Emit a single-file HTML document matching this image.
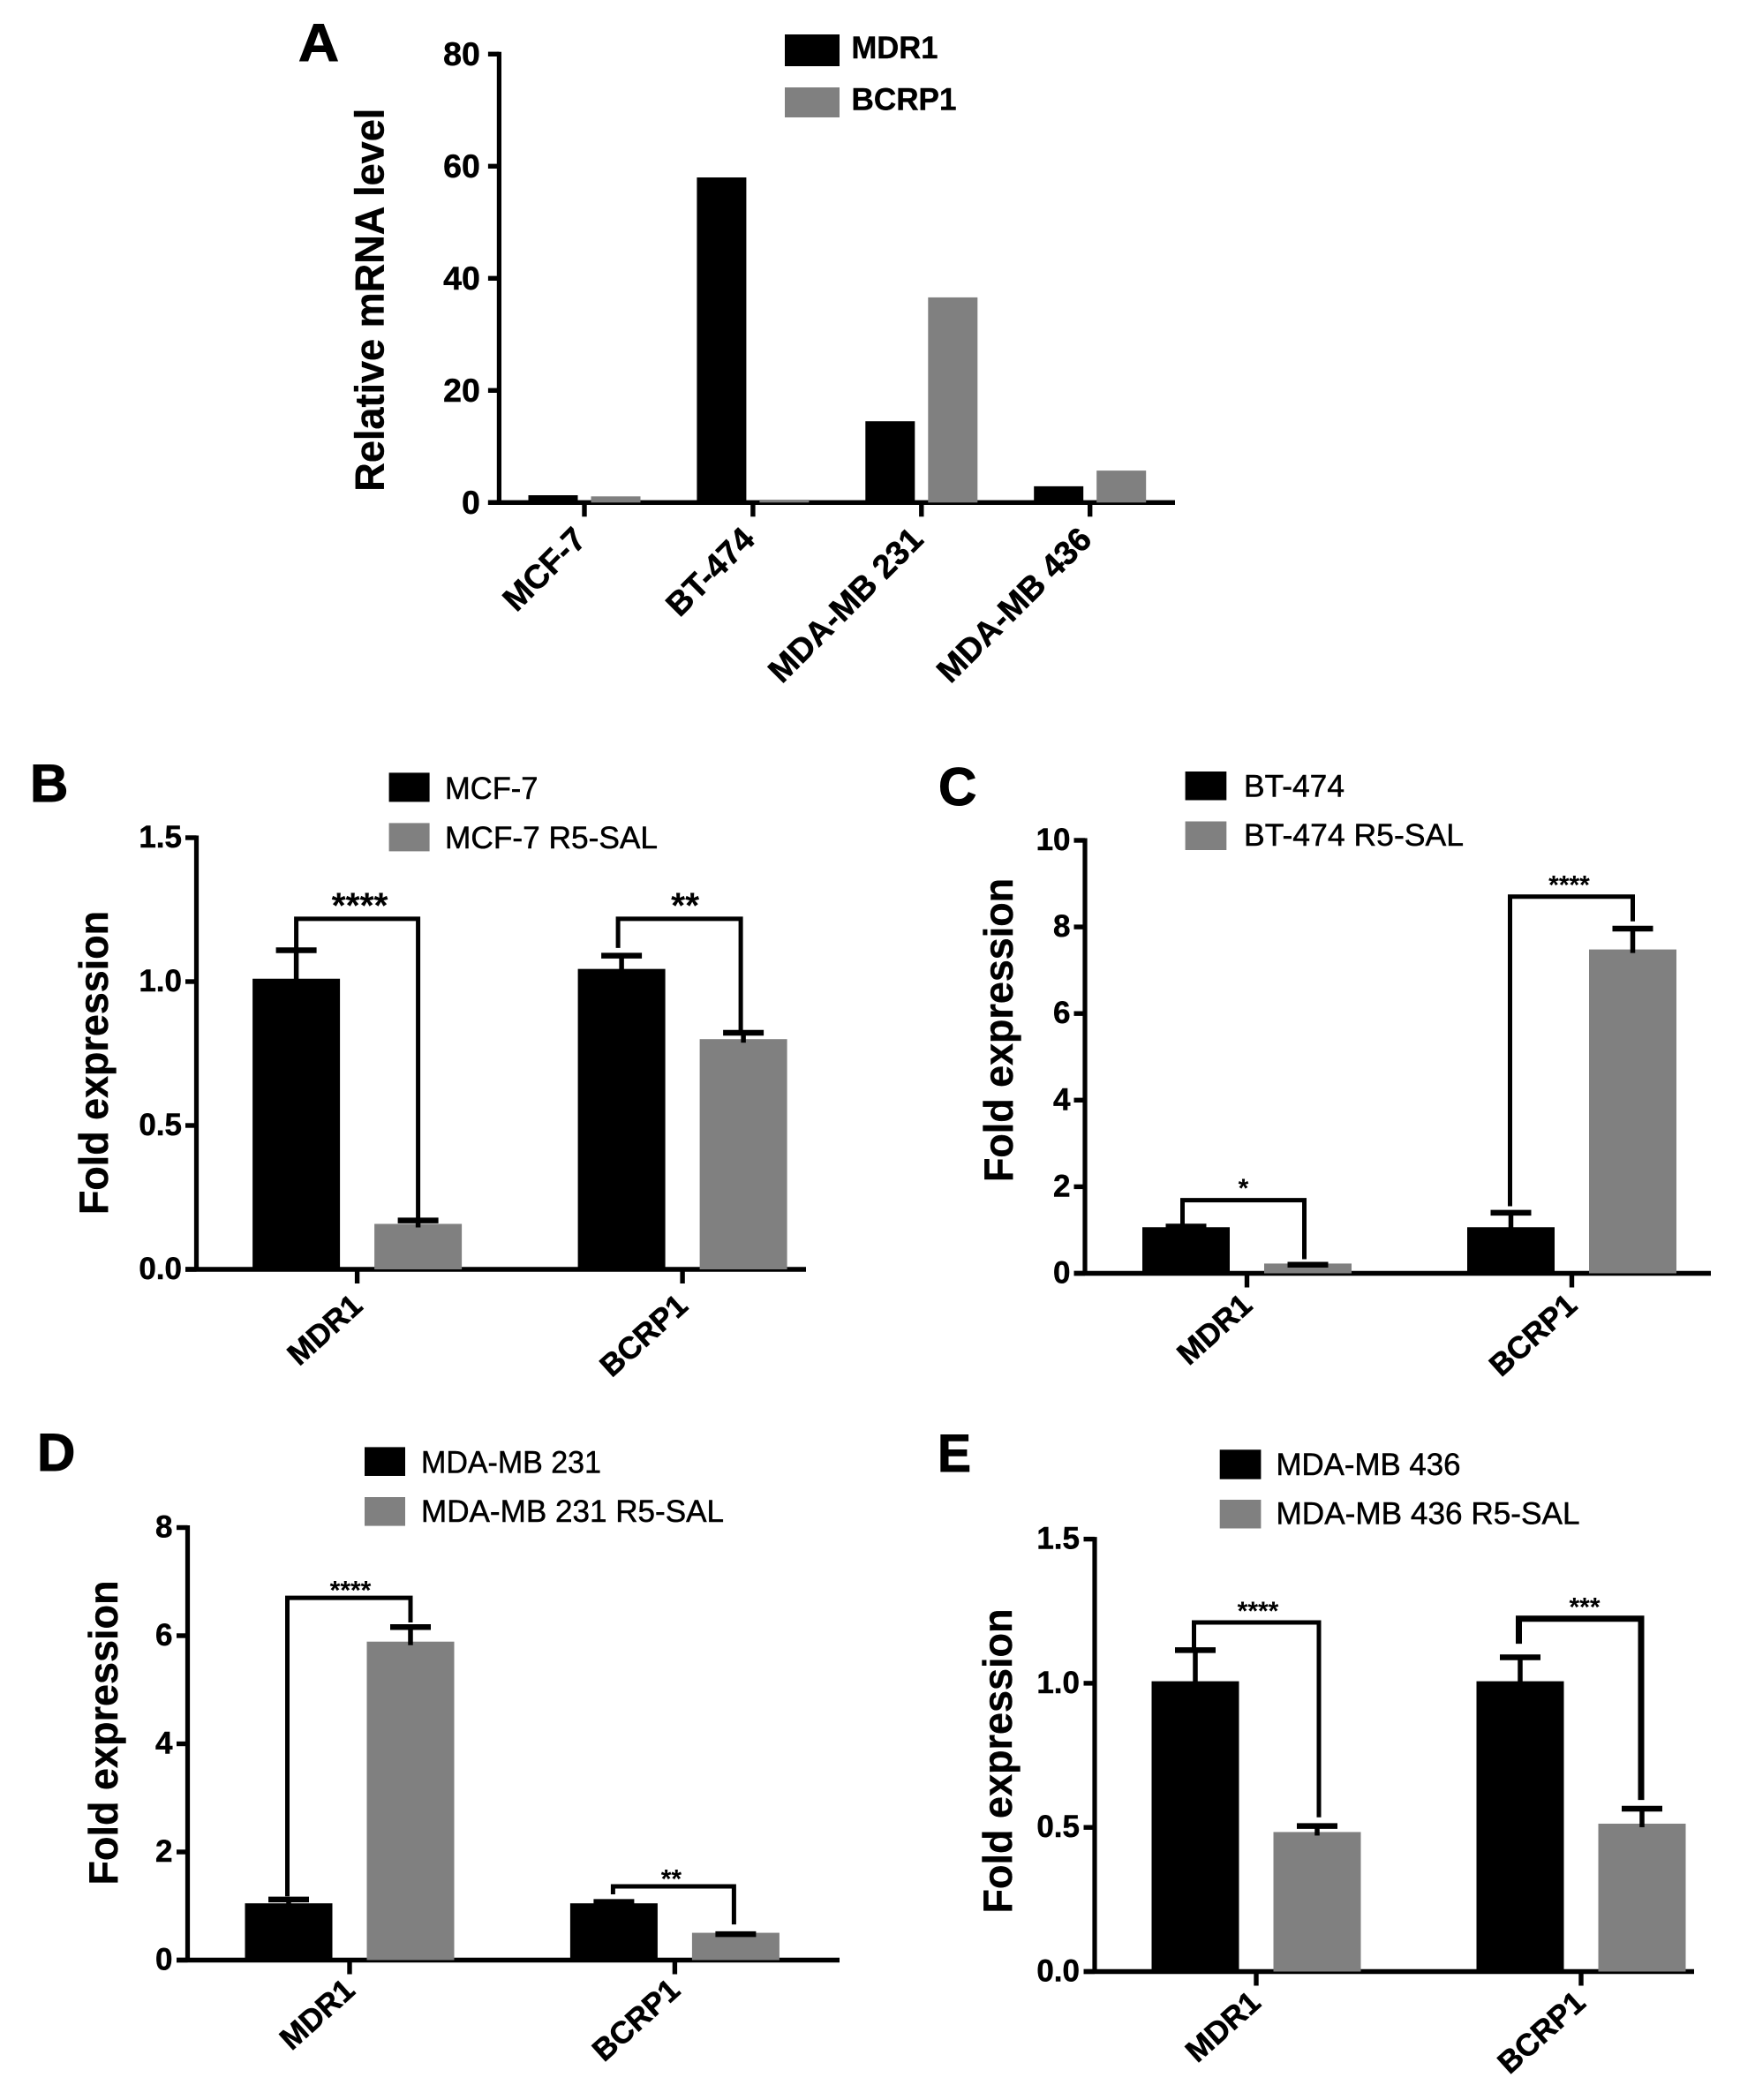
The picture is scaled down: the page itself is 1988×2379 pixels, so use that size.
<!DOCTYPE html>
<html lang="en">
<head>
<meta charset="utf-8">
<title>Relative mRNA level and fold expression of MDR1 and BCRP1</title>
<style>
html,body{margin:0;padding:0;background:#fff;}
svg{display:block;}
text{font-family:"Liberation Sans",sans-serif;fill:#000;}
.panel-letter{font-size:60px;font-weight:700;stroke:#000;stroke-width:1px;}
.y-title{font-size:46px;font-weight:700;stroke:#000;stroke-width:.4px;}
.legend-bold{font-size:35px;font-weight:700;stroke:#000;stroke-width:.4px;}
.legend-reg{font-size:35px;stroke:#000;stroke-width:.5px;}
.tick{font-weight:700;text-anchor:end;stroke:#000;stroke-width:.5px;}
.cat{font-weight:700;text-anchor:end;stroke:#000;stroke-width:.6px;}
.stars{font-weight:700;text-anchor:middle;}
</style>
</head>
<body>
<svg id="figure" xmlns="http://www.w3.org/2000/svg" width="1988" height="2379" viewBox="0 0 1988 2379">
  <rect x="0" y="0" width="1988" height="2379" fill="#fff"/>

  <text class="panel-letter" x="338" y="69" textLength="46" lengthAdjust="spacingAndGlyphs">A</text>
  <text class="y-title" transform="translate(434.5,339.7) rotate(-90)" text-anchor="middle" textLength="434" lengthAdjust="spacingAndGlyphs">Relative mRNA level</text>
  <rect x="889" y="39" width="62" height="36" fill="#000"/>
  <rect x="889" y="99" width="62" height="34" fill="#808080"/>
  <text class="legend-bold" x="964.5" y="66" textLength="98" lengthAdjust="spacingAndGlyphs">MDR1</text>
  <text class="legend-bold" x="964.5" y="124.5" textLength="119" lengthAdjust="spacingAndGlyphs">BCRP1</text>

  <text class="panel-letter" x="34" y="908">B</text>
  <text class="y-title" transform="translate(122,1204) rotate(-90)" text-anchor="middle" textLength="344" lengthAdjust="spacingAndGlyphs">Fold expression</text>
  <rect x="440.6" y="875.4" width="46" height="33" fill="#000"/>
  <rect x="440.6" y="932.4" width="46" height="32" fill="#808080"/>
  <text class="legend-reg" x="504" y="905" textLength="105.5" lengthAdjust="spacingAndGlyphs">MCF-7</text>
  <text class="legend-reg" x="504" y="961" textLength="241" lengthAdjust="spacingAndGlyphs">MCF-7 R5-SAL</text>

  <text class="panel-letter" x="1063" y="912">C</text>
  <text class="y-title" transform="translate(1147,1167) rotate(-90)" text-anchor="middle" textLength="344" lengthAdjust="spacingAndGlyphs">Fold expression</text>
  <rect x="1342.6" y="874" width="46.7" height="32.5" fill="#000"/>
  <rect x="1342.6" y="930.5" width="46.7" height="32.5" fill="#808080"/>
  <text class="legend-reg" x="1409" y="902.7" textLength="114" lengthAdjust="spacingAndGlyphs">BT-474</text>
  <text class="legend-reg" x="1409" y="958" textLength="249" lengthAdjust="spacingAndGlyphs">BT-474 R5-SAL</text>

  <text class="panel-letter" x="42" y="1666">D</text>
  <text class="y-title" transform="translate(133,1963) rotate(-90)" text-anchor="middle" textLength="345" lengthAdjust="spacingAndGlyphs">Fold expression</text>
  <rect x="413" y="1639.4" width="46" height="32.6" fill="#000"/>
  <rect x="413" y="1696" width="46" height="32.6" fill="#808080"/>
  <text class="legend-reg" x="477" y="1668.5" textLength="204" lengthAdjust="spacingAndGlyphs">MDA-MB 231</text>
  <text class="legend-reg" x="477" y="1724" textLength="343" lengthAdjust="spacingAndGlyphs">MDA-MB 231 R5-SAL</text>

  <text class="panel-letter" x="1062" y="1667" textLength="38" lengthAdjust="spacingAndGlyphs">E</text>
  <text class="y-title" transform="translate(1146,1995) rotate(-90)" text-anchor="middle" textLength="345" lengthAdjust="spacingAndGlyphs">Fold expression</text>
  <rect x="1381.7" y="1642.3" width="46.7" height="33.4" fill="#000"/>
  <rect x="1381.7" y="1699" width="46.7" height="32.5" fill="#808080"/>
  <text class="legend-reg" x="1445.5" y="1671" textLength="209" lengthAdjust="spacingAndGlyphs">MDA-MB 436</text>
  <text class="legend-reg" x="1445.5" y="1726.6" textLength="344" lengthAdjust="spacingAndGlyphs">MDA-MB 436 R5-SAL</text>
</svg>
<script>
// Panel A data
const aCategories = ["MCF-7", "BT-474", "MDA-MB 231", "MDA-MB 436"];
const aTicks = ["0", "20", "40", "60", "80"];
const aMdr1 = [1.3, 58, 14.5, 2.9];
const aBcrp1 = [1.1, 0.5, 36.6, 5.7];

// Panel B data
const bCategories = ["MDR1", "BCRP1"];
const bTicks = ["0.0", "0.5", "1.0", "1.5"];
const bControl = [1.01, 1.044];
const bResistant = [0.158, 0.80];
const bControlErr = [1.109, 1.09];
const bResistantErr = [0.17, 0.822];
const bBracketTop = [1.218, 1.218];
const bBracketLeft = [1.109, 1.117];
const bBracketRight = [0.17, 0.819];
const bStars = ["****", "**"];

// Panel C data
const cCategories = ["MDR1", "BCRP1"];
const cTicks = ["0", "2", "4", "6", "8", "10"];
const cControl = [1.065, 1.065];
const cResistant = [0.226, 7.48];
const cControlErr = [1.08, 1.40];
const cResistantErr = [0.2, 7.96];
const cBracketTop = [1.69, 8.70];
const cBracketLeft = [1.10, 1.55];
const cBracketRight = [0.326, 8.13];
const cStars = ["*", "****"];

// Panel D data
const dCategories = ["MDR1", "BCRP1"];
const dTicks = ["0", "2", "4", "6", "8"];
const dControl = [1.05, 1.05];
const dResistant = [5.89, 0.505];
const dControlErr = [1.12, 1.076];
const dResistantErr = [6.16, 0.48];
const dBracketTop = [6.70, 1.363];
const dBracketLeft = [1.18, 1.216];
const dBracketRight = [6.245, 0.66];
const dStars = ["****", "**"];

// Panel E data
const eCategories = ["MDR1", "BCRP1"];
const eTicks = ["0.0", "0.5", "1.0", "1.5"];
const eControl = [1.007, 1.007];
const eResistant = [0.484, 0.513];
const eControlErr = [1.115, 1.09];
const eResistantErr = [0.505, 0.565];
const eBracketTop = [1.211, 1.224];
const eBracketLeft = [1.122, 1.137];
const eBracketRight = [0.535, 0.595];
const eStars = ["****", "***"];

const SVG_NS = "http://www.w3.org/2000/svg";
const root = document.getElementById("figure");

function drawRect(name, x, y, w, h, fill) {
  const el = document.createElementNS(SVG_NS, "rect");
  
  
  el.setAttribute("x", x);
  el.setAttribute("y", y);
  el.setAttribute("width", w);
  el.setAttribute("height", h);
  el.setAttribute("fill", fill);
  root.appendChild(el);
}

function drawLine(name, x1, y1, x2, y2, width) {
  const el = document.createElementNS(SVG_NS, "line");
  
  
  el.setAttribute("x1", x1);
  el.setAttribute("y1", y1);
  el.setAttribute("x2", x2);
  el.setAttribute("y2", y2);
  el.setAttribute("stroke", "#000");
  el.setAttribute("stroke-width", width);
  root.appendChild(el);
}

function drawPath(name, d, width) {
  const el = document.createElementNS(SVG_NS, "path");
  
  
  el.setAttribute("d", d);
  el.setAttribute("fill", "none");
  el.setAttribute("stroke", "#000");
  el.setAttribute("stroke-width", width);
  root.appendChild(el);
}

function drawText(name, cls, x, y, str, transform, size) {
  const el = document.createElementNS(SVG_NS, "text");
  
  
  el.setAttribute("class", cls);
  el.setAttribute("x", x);
  el.setAttribute("y", y);
  if (transform) el.setAttribute("transform", transform);
  if (size) el.setAttribute("font-size", size);
  el.textContent = str;
  root.appendChild(el);
}

// Shared axes for every panel; returns the scale functions.
function drawAxes(p, tag, ticks, categories) {
  const yMax = parseFloat(ticks[ticks.length - 1]);
  const yScale = v => p.y0 - (v / yMax) * (p.y0 - p.yTop);
  const xScale = i => p.x0 + i * p.step;
  drawLine(tag + "-y-axis", p.axisX, p.yTop - 2.5, p.axisX, p.y0 + 2.5, 5.2);
  drawLine(tag + "-x-axis", p.axisX - 12.5, p.y0, p.axisEnd, p.y0, 5.4);
  ticks.forEach(t => {
    const v = parseFloat(t);
    drawLine(tag + "-y-tick-" + t, p.axisX - 12.5, yScale(v), p.axisX, yScale(v), 5.4);
    drawText(tag + "-y-tick-label-" + t, "tick", p.axisX - p.tickGap, yScale(v) + p.tickDy, t, null, p.tickSize);
  });
  categories.forEach((c, i) => {
    drawLine(tag + "-x-tick-" + c, xScale(i), p.y0, xScale(i), p.y0 + 16, 5.4);
    const lx = xScale(i) + p.labelDx;
    const ly = p.y0 + p.labelDy;
    drawText(tag + "-x-label-" + c, "cat", lx, ly, c, "rotate(" + p.labelAngle + " " + lx + " " + ly + ")", p.labelSize);
  });
  return { xScale, yScale };
}

function drawPanelA(p) {
  const s = drawAxes(p, "panel-a", aTicks, aCategories);
  aCategories.forEach((c, i) => {
    const cx = s.xScale(i);
    drawRect("panel-a-bar-mdr1-" + c, cx - p.offset - p.barW / 2, s.yScale(aMdr1[i]), p.barW, p.y0 - s.yScale(aMdr1[i]), "#000");
    drawRect("panel-a-bar-bcrp1-" + c, cx + p.offset - p.barW / 2, s.yScale(aBcrp1[i]), p.barW, p.y0 - s.yScale(aBcrp1[i]), "#808080");
  });
}

function drawPanel(p, tag, categories, ticks, control, resistant, controlErr, resistantErr, bracketTop, bracketLeft, bracketRight, stars) {
  const s = drawAxes(p, tag, ticks, categories);
  categories.forEach((c, i) => {
    const cx = s.xScale(i);
    const xa = cx - p.offset;
    const xb = cx + p.offset;
    drawRect(tag + "-bar-control-" + c, xa - p.barW / 2, s.yScale(control[i]), p.barW, p.y0 - s.yScale(control[i]), "#000");
    drawRect(tag + "-bar-resistant-" + c, xb - p.barW / 2, s.yScale(resistant[i]), p.barW, p.y0 - s.yScale(resistant[i]), "#808080");

    const ya = s.yScale(controlErr[i]);
    const yb = s.yScale(resistantErr[i]);
    const baseA = s.yScale(control[i]);
    const baseB = s.yScale(resistant[i]);
    drawLine(tag + "-error-stem-control-" + c, xa, ya, xa, baseA + 2, 5.5);
    drawLine(tag + "-error-cap-control-" + c, xa - 23, ya, xa + 23, ya, 6.5);
    drawLine(tag + "-error-stem-resistant-" + c, xb, yb, xb, baseB + 4, 5.5);
    drawLine(tag + "-error-cap-resistant-" + c, xb - 23, yb, xb + 23, yb, 6.5);

    const top = s.yScale(bracketTop[i]);
    const bl = xa + p.bracketDx[i][0];
    const br = xb + p.bracketDx[i][1];
    const d = "M" + bl + " " + s.yScale(bracketLeft[i]) + "V" + top + "H" + br + "V" + s.yScale(bracketRight[i]);
    drawPath(tag + "-significance-bracket-" + c, d, p.bracketW ? p.bracketW[i] : 5);
    drawText(tag + "-significance-stars-" + c, "stars", (xa + xb) / 2 + 2 + p.starDx[i], top + p.starDy, stars[i], null, p.starSize);
  });
}

drawPanelA({ axisX: 565.4, axisEnd: 1331, yTop: 61.3, y0: 569.3, x0: 662, step: 190.9, offset: 35.5, barW: 56, labelDx: 4, labelDy: 44, labelAngle: -45, labelSize: 37.5, tickGap: 21.5, tickDy: 12.5, tickSize: 37.5 });

drawPanel({ axisX: 222.5, axisEnd: 913, yTop: 949, y0: 1438, x0: 404.6, step: 368.5, offset: 69, barW: 99, labelDx: 8, labelDy: 44, labelAngle: -42, labelSize: 35, tickGap: 16.5, tickDy: 11, tickSize: 35, starSize: 41, starDy: -1.5, starDx: [1, 1], bracketDx: [[0, 0], [-4, -3]] },
  "panel-b", bCategories, bTicks, bControl, bResistant, bControlErr, bResistantErr, bBracketTop, bBracketLeft, bBracketRight, bStars);

drawPanel({ axisX: 1229, axisEnd: 1938, yTop: 952, y0: 1442.5, x0: 1412.5, step: 368, offset: 69, barW: 99, labelDx: 8, labelDy: 39, labelAngle: -42, labelSize: 35, tickGap: 16.5, tickDy: 11, tickSize: 35, starSize: 30, starDy: -3.5, starDx: [-6, -5], bracketDx: [[-4, -4], [-1, 0]] },
  "panel-c", cCategories, cTicks, cControl, cResistant, cControlErr, cResistantErr, cBracketTop, cBracketLeft, cBracketRight, cStars);

drawPanel({ axisX: 212.5, axisEnd: 951, yTop: 1730.5, y0: 2220.5, x0: 396, step: 368.4, offset: 69, barW: 99, labelDx: 8, labelDy: 37, labelAngle: -42, labelSize: 35, tickGap: 17, tickDy: 11, tickSize: 35, starSize: 30, starDy: 1.5, starDx: [-1, -6], bracketDx: [[-1.5, 0], [-1, -2]] },
  "panel-d", dCategories, dTicks, dControl, dResistant, dControlErr, dResistantErr, dBracketTop, dBracketLeft, dBracketRight, dStars);

drawPanel({ axisX: 1240, axisEnd: 1919, yTop: 1743.6, y0: 2233.5, x0: 1423, step: 368, offset: 69, barW: 99, labelDx: 7, labelDy: 38, labelAngle: -42, labelSize: 35, tickGap: 17, tickDy: 11, tickSize: 35, starSize: 30, starDy: -3, starDx: [0, 2], bracketDx: [[-1.5, 2], [-1.5, -1]], bracketW: [5, 7] },
  "panel-e", eCategories, eTicks, eControl, eResistant, eControlErr, eResistantErr, eBracketTop, eBracketLeft, eBracketRight, eStars);
</script>
</body>
</html>
